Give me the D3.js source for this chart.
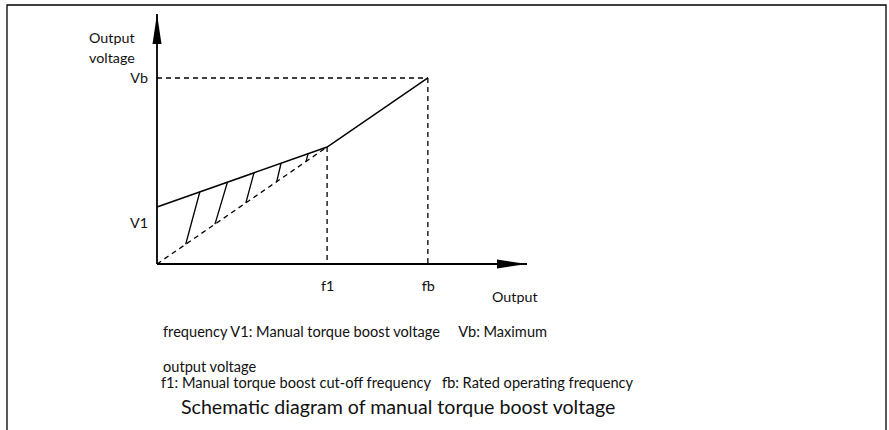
<!DOCTYPE html>
<html>
<head>
<meta charset="utf-8">
<script src="https://cdn.jsdelivr.net/npm/d3@7"></script>
<style>
  html, body { margin: 0; padding: 0; background: #fff; }
  svg { display: block; }
  text { font-family: Lato, "Open Sans", sans-serif; fill: #111; }
</style>
</head>
<body>
<svg id="chart" width="889" height="430"></svg>
<script>
// V/F curve with manual torque boost (frequency in Hz, voltage in % of Vb)
const freqMarks = [31.4, 50];          // f1, fb
const freqLabels = ["f1", "fb"];
const voltMarks = [30.6, 100];         // V1, Vb
const voltLabels = ["V1", "Vb"];
const boostCurve = [[0, 30.6], [31.4, 62.9], [50, 100]];   // boosted output
const linearCurve = [[0, 0], [31.4, 62.9]];                // un-boosted line up to f1
const hatchTopF = [7.9, 13.0, 17.9, 22.9, 27.9];
const hatchBottomF = [5.3, 10.7, 16.4, 22.1, 27.5];
const axisMaxF = 68.3;
const axisMaxV = 134.4;
const noteLines = [
  "frequency V1: Manual torque boost voltage     Vb: Maximum",
  "output voltage",
  "f1: Manual torque boost cut-off frequency   fb: Rated operating frequency"
];
const title = "Schematic diagram of manual torque boost voltage";

const FONT = "Lato, 'Open Sans', sans-serif";
const LABEL_SIZE = "14.3px";
const svg = d3.select("#chart");
const x0 = 157, y0 = 264;
const x = d3.scaleLinear().domain([0, axisMaxF]).range([x0, 527]);
const y = d3.scaleLinear().domain([0, axisMaxV]).range([y0, 14]);

// frame
svg.append("path")
  .attr("d", "M7,430 V5 H886 V430")
  .attr("fill", "none").attr("stroke", "#000").attr("stroke-width", 1.3);

// arrow heads
const defs = svg.append("defs");
defs.append("marker").attr("id", "arrow")
  .attr("viewBox", "0 0 30 10").attr("refX", 30).attr("refY", 5)
  .attr("markerWidth", 30).attr("markerHeight", 10)
  .attr("markerUnits", "userSpaceOnUse").attr("orient", "auto")
  .append("path").attr("d", "M0,0.5 L30,5 L0,9.5 Z").attr("fill", "#000");

// guide lines to Vb / fb and f1
const dash = "5,4";
const knee = boostCurve[1];
svg.append("line")
  .attr("x1", x(0)).attr("y1", y(voltMarks[1]))
  .attr("x2", x(freqMarks[1])).attr("y2", y(voltMarks[1]))
  .attr("stroke", "#000").attr("stroke-width", 1.3).attr("stroke-dasharray", dash);
svg.append("line")
  .attr("x1", x(freqMarks[1])).attr("y1", y(voltMarks[1]))
  .attr("x2", x(freqMarks[1])).attr("y2", y(0))
  .attr("stroke", "#000").attr("stroke-width", 1.3).attr("stroke-dasharray", dash);
svg.append("line")
  .attr("x1", x(knee[0])).attr("y1", y(knee[1]))
  .attr("x2", x(knee[0])).attr("y2", y(0))
  .attr("stroke", "#000").attr("stroke-width", 1.3).attr("stroke-dasharray", dash);

const line = d3.line().x(d => x(d[0])).y(d => y(d[1]));

// linear V/F line (dashed)
svg.append("path").datum(linearCurve)
  .attr("d", line).attr("fill", "none")
  .attr("stroke", "#000").attr("stroke-width", 1.3).attr("stroke-dasharray", dash);

// boosted curve
svg.append("path").datum(boostCurve)
  .attr("d", line).attr("fill", "none")
  .attr("stroke", "#000").attr("stroke-width", 1.5);

// hatching between the two curves
const vUpper = f => boostCurve[0][1] + (knee[1] - boostCurve[0][1]) * f / knee[0];
const vLower = f => knee[1] * f / knee[0];
svg.append("g").selectAll("line")
  .data(d3.zip(hatchTopF, hatchBottomF))
  .join("line")
  .attr("x1", d => x(d[0])).attr("y1", d => y(vUpper(d[0])))
  .attr("x2", d => x(d[1])).attr("y2", d => y(vLower(d[1])))
  .attr("stroke", "#000").attr("stroke-width", 1.3);

// axes
svg.append("line")
  .attr("x1", x(0)).attr("y1", y(0)).attr("x2", x(axisMaxF)).attr("y2", y(0))
  .attr("stroke", "#000").attr("stroke-width", 1.8).attr("marker-end", "url(#arrow)");
svg.append("line")
  .attr("x1", x(0)).attr("y1", y(0)).attr("x2", x(0)).attr("y2", y(axisMaxV))
  .attr("stroke", "#000").attr("stroke-width", 1.8).attr("marker-end", "url(#arrow)");

const xAxis = svg.append("g").attr("transform", `translate(0,${y0})`)
  .call(d3.axisBottom(x).tickValues(freqMarks).tickSize(0).tickPadding(17)
    .tickFormat((d, i) => freqLabels[i]));
const yAxis = svg.append("g").attr("transform", `translate(${x0},0)`)
  .call(d3.axisLeft(y).tickValues(voltMarks).tickSize(0).tickPadding(9)
    .tickFormat((d, i) => voltLabels[i]));
[xAxis, yAxis].forEach(g => {
  g.select(".domain").remove();
  g.selectAll("text").style("font-family", FONT)
    .style("font-size", LABEL_SIZE).attr("fill", "#111");
});
// the V1 label sits a little below its level on the axis
yAxis.selectAll(".tick").filter(d => d === voltMarks[0]).select("text")
  .attr("dy", "1.4em");

// axis titles
svg.append("text").attr("x", 89).attr("y", 43).style("font-size", LABEL_SIZE).text("Output");
svg.append("text").attr("x", 89).attr("y", 63).style("font-size", LABEL_SIZE).text("voltage");
svg.append("text").attr("x", 492).attr("y", 302).style("font-size", LABEL_SIZE).text("Output");

// legend notes and caption
const noteY = [337, 372, 388];
const noteX = [163, 163, 161];
noteLines.forEach((t, i) => {
  svg.append("text").attr("x", noteX[i]).attr("y", noteY[i])
    .style("font-size", "14.6px").style("white-space", "pre")
    .attr("xml:space", "preserve").text(t);
});
svg.append("text").attr("x", 181).attr("y", 414)
  .style("font-size", "19.6px").text(title);
</script>
</body>
</html>
